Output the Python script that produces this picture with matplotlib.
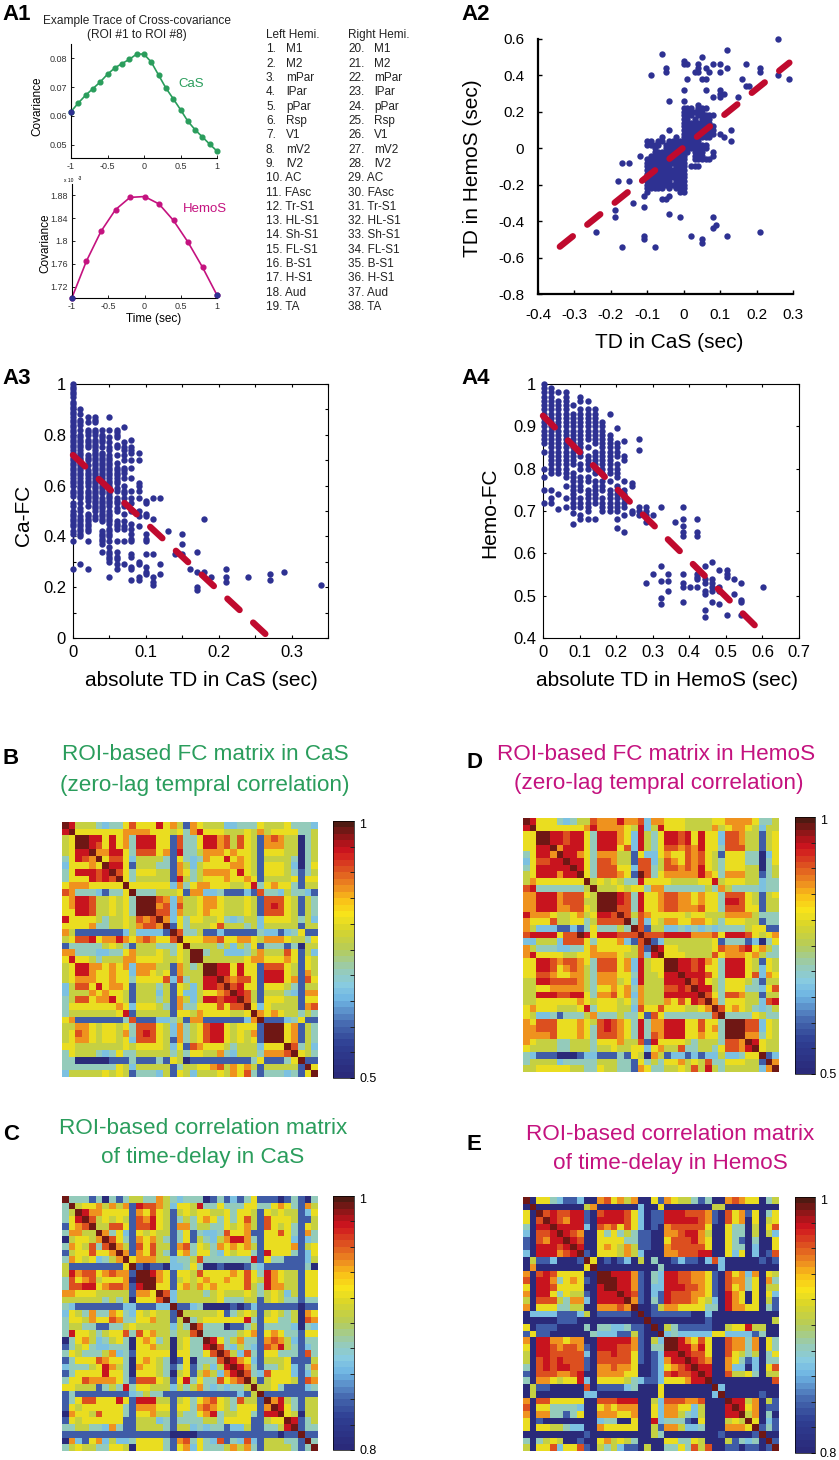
import numpy as np
import matplotlib
matplotlib.use("Agg")
import matplotlib.pyplot as plt
from matplotlib.colors import LinearSegmentedColormap

plt.rcParams['font.family'] = ['Liberation Sans', 'DejaVu Sans']
W, H = 839, 1460
BLUE = '#2e3192'
RED = '#c00a2e'
GREEN = '#2a9d5c'
MAGENTA = '#c4127f'
DOT = 21

# A1 traces
cas_t = [-1, -.9, -.8, -.7, -.6, -.5, -.4, -.3, -.2, -.1, 0, .1, .2, .3, .4, .5, .6, .7, .8, .9, 1]
cas_cov = [.0615, .0645, .0672, .0695, .0718, .0745, .0767, .0782, .0797, .0815, .0815,
           .0787, .0742, .0697, .0660, .0622, .0582, .0552, .0527, .0502, .0478]
hemo_t = [-1, -.8, -.6, -.4, -.2, 0, .2, .4, .6, .8, 1]
hemo_cov = [1.7008, 1.765, 1.817, 1.855, 1.8765, 1.878, 1.865, 1.836, 1.798, 1.754, 1.705]

roi_names = ['M1', 'M2', 'mPar', 'lPar', 'pPar', 'Rsp', 'V1', 'mV2', 'lV2', 'AC', 'FAsc', 'Tr-S1',
             'HL-S1', 'Sh-S1', 'FL-S1', 'B-S1', 'H-S1', 'Aud', 'TA']

# A2 outliers
a2_x = [-.09, -.05, -.05, -.04, -.04, 0, 0, .01, .01, 0, 0, .03, .04, .04, .04, .05, .06, .06, .07, .06, .08, .08,
        .10, .10, .10, .10, .11, .12, .15, .16, .17, .17, .18, .21, .21, .10, .05, .12, -.06, .11, .10, .13, .13,
        .26, .26, .29,
        -.12, -.17, -.15, -.18, -.15, -.14, -.19, -.19, -.24, -.11, -.11, -.11, -.11, -.08, -.17, -.04, -.01,
        .02, .05, .05, .08, .09, .08, .12, .21, -.06, -.05, -.04, -.10, -.10]
a2_y = [.40, .44, .42, .26, .10, .48, .46, .46, .38, .32, .26, .42, .46, .44, .42, .38, .38, .44, .42, .32, .46, .28,
        .46, .42, .32, .28, .30, .44, .28, .38, .46, .34, .34, .44, .42, .30, .50, .54, .52, .06, .08, .10, .04,
        .60, .40, .38,
        -.04, -.08, -.08, -.18, -.18, -.30, -.34, -.38, -.46, -.32, -.26, -.48, -.50, -.54, -.54, -.36, -.38,
        -.48, -.50, -.52, -.38, -.42, -.44, -.48, -.46, -.28, -.28, -.26, -.22, -.24]
# A2 dense core, columns of y (hundredths) at x (hundredths)
a2_core_x = [-10, -9, -8, -7, -6, -5, -4, -3, -2, -1, 0, 1, 2, 3, 4, 5, 6, 7, 8]
a2_core_y = [
    [-20, -18, -14, -12, -10, -8, -6, 2, 4],
    [-22, -20, -18, -16, -14, -12, -10, -8, -6, -4, 2, 4],
    [-22, -20, -18, -16, -14, -12, -10, -8, -6, -4, -2, 0, 2],
    [-22, -20, -18, -16, -14, -12, -10, -8, -6, -4, -2, 2, 4],
    [-22, -20, -18, -16, -14, -12, -10, -8, -6, -4, -2, 4, 6],
    [-20, -18, -16, -14, -12, -10, -8, -6, -4, -2, 0, 2],
    [-22, -20, -18, -16, -14, -12, -10, -8, -6, -4, -2, 0, 2, 4],
    [-20, -16, -14, -12, -8, -6, -4, -2, 0, 2, 4],
    [-22, -20, -18, -16, -14, -12, -10, -8, -6, -4, -2, 0, 2, 4, 6],
    [-24, -22, -20, -18, -16, -14, -12, -10, -8, -6, -4, -2, 0, 2, 4],
    [-24, -22, -20, -18, -16, -14, -12, -10, -8, -6, -4, -2, 0, 2, 4, 6, 8, 10, 12, 14, 16, 18, 20, 22],
    [-2, 0, 2, 4, 6, 8, 10, 12, 14, 16, 18, 20, 22],
    [-10, 0, 2, 4, 6, 8, 10, 12, 14, 18, 20, 22],
    [-10, -6, -4, -2, 0, 2, 4, 6, 8, 10, 12, 14, 16, 20],
    [-10, -6, -4, -2, 0, 2, 4, 6, 8, 10, 12, 14, 18, 20, 22, 24],
    [-6, -4, -2, 0, 2, 6, 8, 10, 12, 14, 16, 18, 20, 22],
    [-6, 0, 2, 6, 8, 10, 12, 14, 16, 18, 22],
    [-6, 6, 8, 10, 12, 14, 16, 18],
    [-4, -2, 8, 10, 12, 18],
]
a2_line_x = [-.34, .29]
a2_line_y = [-.54, .47]

# A3 columns
a3_x = [0, .01, .02, .03, .04, .05, .06, .07, .08, .09, .10, .11, .12, .13, .14, .15, .16, .17, .18, .19, .21, .24, .27, .29, .34]
a3_y = [
    [27, 38, 41, 42, 44, 45, 46, 47, 48, 49, 50, 52, 53, 56, 57, 58, 60, 61, 62, 63, 64, 65, 66, 67, 68, 69, 70, 71, 72,
     73, 74, 75, 76, 77, 78, 79, 80, 81, 82, 83, 84, 85, 86, 87, 88, 89, 90, 91, 92, 93, 95, 96, 97, 98, 99, 100],
    [29, 40, 41, 42, 43, 44, 45, 46, 47, 48, 50, 51, 53, 55, 56, 57, 58, 59, 60, 61, 62, 63, 64, 65, 66, 67, 68, 69, 70,
     71, 72, 73, 74, 75, 76, 77, 78, 79, 80, 82, 84, 85, 86, 88, 90],
    [27, 38, 42, 43, 44, 45, 46, 47, 48, 49, 52, 54, 55, 56, 57, 58, 60, 61, 62, 63, 64, 65, 66, 68, 70, 71, 72, 75, 76,
     77, 78, 80, 81, 82, 85, 87],
    [47, 48, 50, 51, 52, 53, 54, 55, 56, 57, 58, 59, 60, 61, 62, 63, 64, 65, 66, 67, 68, 69, 70, 71, 72, 73, 74, 75, 76,
     77, 78, 80, 81, 82, 85, 86, 87],
    [34, 37, 38, 39, 40, 41, 42, 46, 47, 48, 49, 50, 51, 52, 53, 54, 55, 57, 58, 59, 60, 61, 62, 63, 64, 65, 66, 67, 68,
     69, 70, 71, 72, 73, 75, 77, 78, 79, 80, 82],
    [24, 30, 31, 32, 33, 34, 36, 38, 40, 41, 42, 43, 45, 46, 47, 48, 49, 50, 52, 53, 54, 55, 56, 57, 58, 59, 60, 61, 62,
     63, 64, 65, 66, 67, 68, 69, 70, 71, 72, 74, 75, 77, 79, 82, 87],
    [27, 29, 31, 32, 34, 38, 43, 44, 45, 46, 50, 51, 53, 54, 55, 58, 59, 61, 62, 63, 64, 65, 66, 67, 69, 72, 75, 76, 79,
     80, 81, 82],
    [29, 38, 43, 44, 46, 49, 52, 53, 55, 57, 58, 60, 63, 65, 66, 67, 70, 72, 74, 75, 77, 83],
    [23, 27, 28, 32, 33, 38, 39, 41, 43, 45, 50, 53, 55, 58, 63, 67, 70, 73, 74, 75, 78],
    [23, 24, 29, 30, 44, 48, 50, 55, 58, 60, 61, 70, 73],
    [25, 26, 28, 33, 38, 39, 41, 48, 49, 53, 54],
    [21, 22, 24, 33, 47, 55],
    [25, 29, 55],
    [42],
    [33],
    [33, 37, 41],
    [27],
    [19, 20, 26, 34],
    [26, 47],
    [24],
    [22, 24, 27],
    [24],
    [23, 25],
    [26],
    [21],
]
a3_line_x = [0, .27]
a3_line_y = [.72, 0]

# A4 columns
a4_x = [0, .02, .04, .06, .08, .10, .12, .14, .16, .18, .20, .22, .24, .26, .28, .30, .32, .34, .36, .38, .40,
        .42, .44, .46, .48, .50, .52, .54, .60]
a4_y = [
    [72, 75, 78, 80, 84, 86, 87, 88, 89, 90, 91, 92, 93, 94, 95, 96, 97, 98, 99, 100],
    [72, 73, 75, 79, 80, 81, 82, 83, 84, 85, 86, 87, 88, 89, 90, 91, 92, 93, 94, 95, 96, 97, 98, 99],
    [70.5, 74, 79, 80, 81, 82, 83, 84, 85, 86, 87, 88, 89, 90, 91, 92, 93, 94, 95, 96, 98],
    [71, 73, 76, 78, 79, 80, 81, 82, 83, 84, 85, 86, 87, 88, 89, 90, 91, 92, 93, 94, 95, 96, 97, 98],
    [67, 69.5, 71, 72, 73, 74, 75, 76, 77, 78, 79, 81, 82, 83, 84, 85, 86, 87, 88, 89, 90, 91, 92, 93, 95],
    [68, 69, 71, 72, 73, 75, 76, 77, 78, 80, 81, 83, 84, 85, 86, 87, 88, 89, 90, 91, 92, 93, 94, 96, 97],
    [68, 70, 71, 72, 73, 74, 75, 77, 78, 80, 81, 82, 83, 85, 87, 88, 89, 90, 91, 92, 93, 94, 96],
    [68, 72, 73, 74, 75, 76, 77, 79, 80, 81, 82, 83, 84, 86, 87, 88, 89, 90, 91, 92, 93, 94],
    [70, 71, 72, 73, 75, 76, 77, 79, 80, 81, 82, 83, 84, 85, 86, 87, 88, 89, 90, 91],
    [70, 71, 72, 73, 74, 75, 77, 79, 80, 81, 82, 83, 84, 85, 86, 87, 88, 93],
    [66, 68, 70, 71, 72, 73, 74, 75, 76, 78, 79, 80, 81, 83, 84, 85, 86, 89.5],
    [65, 69, 71, 72, 73, 74, 75, 77, 82, 83, 86.5],
    [69.5, 70, 76, 76.5],
    [69, 70, 71, 84.5, 87],
    [53, 67.5, 69, 70, 71],
    [55, 69],
    [48, 49.5, 53.5, 57, 71],
    [51, 53.5, 55],
    [67.5],
    [48.5, 52, 53, 55, 64, 65, 66.5, 68, 71],
    [52],
    [52, 54, 54.5, 55, 64, 65, 68],
    [45, 46.5, 50.5, 51, 53, 54, 57],
    [48.5, 51, 52, 53, 54, 58],
    [48, 51, 52, 56],
    [45.5, 54.5, 55, 56],
    [50.5, 54],
    [45.5, 48.5, 49, 53],
    [52],
]
a4_line_x = [0, .585]
a4_line_y = [.925, .425]

# matrices: upper triangle rows from the diagonal, colour level 0-9
level_frac = [.02, .18, .33, .42, .53, .62, .74, .82, .88, .97]

fc_cas = """9 8 4 4 4 3 2 3 3 5 7 5 5 5 8 5 6 4 1 6 5 4 4 4 2 2 3 3 3 5 4 4 4 5 3 3 3 2
9 5 5 5 5 5 5 5 6 6 6 6 5 5 5 4 5 3 6 8 5 5 5 4 4 4 5 4 6 4 5 5 5 5 3 3 4
9 9 8 8 5 8 5 6 3 8 8 8 5 5 1 7 3 3 5 8 8 6 7 4 7 5 4 1 6 7 6 4 4 0 3 4
9 8 7 5 8 5 6 3 8 8 8 5 5 1 7 3 3 5 8 8 6 7 4 7 5 4 1 6 6 6 4 4 0 3 4
9 6 6 8 8 5 3 7 7 7 5 6 1 8 3 3 4 6 6 6 5 6 5 5 4 1 5 5 5 4 4 0 3 4
9 5 7 7 5 2 4 4 4 4 3 1 5 3 2 3 6 5 5 8 5 6 5 4 1 4 4 4 4 3 0 3 4
9 8 8 5 1 4 4 4 3 3 1 6 4 2 4 5 5 5 5 6 6 5 4 1 5 5 5 4 2 0 3 5
9 7 5 3 5 5 5 4 4 1 6 5 3 4 6 6 6 6 5 8 5 4 1 5 5 5 4 3 1 3 4
9 5 3 4 4 4 4 4 1 8 4 3 4 5 5 5 6 5 5 6 5 1 4 4 4 4 5 1 5 5
9 5 5 5 5 5 5 2 6 3 5 6 6 5 5 5 4 4 5 8 3 5 6 5 5 3 1 4 4
9 3 3 3 4 4 4 5 1 6 6 2 2 3 1 1 1 2 1 7 3 3 2 4 3 3 2 1
9 9 9 7 6 2 6 4 4 5 6 6 5 4 4 4 5 4 1 7 7 7 5 4 1 4 3
9 9 6 7 2 7 4 4 5 6 6 5 4 4 4 5 4 1 7 8 7 5 4 1 4 3
9 7 7 2 6 4 4 5 6 5 5 4 4 4 5 4 1 7 7 7 5 4 1 4 3
9 6 2 5 3 5 5 4 4 5 3 2 3 4 4 2 5 5 5 5 4 3 4 2
9 1 5 3 4 4 4 5 7 4 4 4 3 4 2 4 4 4 4 4 1 4 4
9 7 3 3 4 1 1 2 1 1 1 1 1 3 2 2 1 2 3 5 1 1
9 5 5 5 6 6 7 5 5 6 6 5 4 6 6 6 5 4 4 3 5
9 4 4 4 4 3 4 2 4 3 5 1 3 3 3 1 3 0 4 4
9 9 3 4 4 2 2 2 3 4 6 4 4 4 7 5 1 4 2
9 4 4 4 4 4 4 5 6 6 5 5 5 6 5 1 5 4
9 9 8 8 5 8 5 5 1 7 7 7 5 4 1 5 4
9 8 8 5 8 5 5 1 8 8 8 5 4 1 6 4
9 7 6 7 7 5 1 8 8 8 5 6 1 7 5
9 7 8 5 5 1 5 5 5 4 3 1 4 4
9 8 7 4 1 4 4 4 3 2 1 6 6
9 7 4 1 5 5 5 4 4 1 5 5
9 5 2 5 4 4 4 4 1 6 7
9 6 5 6 5 4 4 3 4 3
9 1 1 1 2 3 5 1 1
9 9 9 5 6 1 4 3
9 9 5 6 1 4 3
9 5 6 1 4 3
9 7 3 4 2
9 5 4 3
9 1 1
9 5
9"""

fc_hemo = """9 8 5 5 5 3 2 3 4 4 7 6 6 6 8 6 6 7 2 6 6 5 5 5 4 4 4 4 5 5 6 6 6 6 5 3 3 4
9 5 5 5 5 5 5 5 6 8 6 6 6 6 5 4 8 2 4 8 5 5 5 4 4 4 4 6 4 5 6 6 5 4 2 4 4
9 9 8 8 7 8 8 5 3 8 8 8 6 5 2 8 4 3 5 8 8 7 8 5 8 5 5 2 7 7 6 4 4 1 4 5
9 8 8 7 8 8 5 3 8 8 8 6 5 2 8 4 3 5 8 8 7 8 5 8 5 5 2 7 7 6 4 4 1 4 5
9 6 8 8 8 5 3 8 8 8 5 7 2 8 4 3 5 7 7 6 7 6 8 5 5 3 7 7 7 4 4 1 4 5
9 8 8 6 5 3 6 6 6 4 4 1 5 2 2 5 6 5 5 7 6 7 5 4 1 5 5 5 3 3 0 2 5
9 8 8 5 3 7 7 6 4 4 1 7 7 2 4 7 6 5 7 6 7 5 4 3 5 5 5 3 3 0 3 5
9 8 5 3 7 7 7 5 5 2 7 7 3 4 7 7 6 7 6 8 5 4 3 5 5 5 4 4 0 3 4
9 5 3 7 7 7 6 5 1 9 7 3 5 6 6 6 6 6 8 6 5 3 6 6 6 4 4 1 3 4
9 4 5 4 5 4 3 3 8 5 5 5 5 4 4 4 4 5 5 8 4 5 5 5 4 4 2 3 3
9 4 4 4 5 4 5 5 3 6 6 3 3 3 3 3 3 4 3 6 4 3 3 3 3 2 3 3
9 9 9 8 7 3 8 5 5 6 7 7 6 6 5 6 5 5 3 7 7 7 5 4 1 4 5
9 9 8 7 3 8 5 5 6 7 7 6 6 5 6 5 5 3 8 8 7 5 4 1 4 4
9 7 7 3 8 5 5 6 7 7 6 6 6 7 5 5 3 7 7 7 5 5 1 4 4
9 7 4 7 6 5 5 5 5 5 4 5 5 4 4 4 6 6 6 6 4 3 3 3
9 3 7 2 5 4 6 6 5 5 6 6 5 4 3 5 5 5 4 4 1 3 3
9 7 1 4 4 2 2 3 2 3 2 3 2 3 3 3 3 4 5 5 1 1
9 7 7 7 8 8 8 8 6 6 6 7 5 8 8 8 7 5 4 5 6
9 1 2 4 4 4 4 4 4 4 5 1 3 3 3 1 2 0 3 5
9 8 5 5 4 4 4 4 4 5 7 6 6 7 8 5 6 4 3
9 5 5 5 4 4 4 4 7 5 6 6 6 5 6 4 3 3
9 9 8 8 7 8 6 5 3 8 8 8 5 4 1 5 4
9 8 8 7 8 5 5 3 8 8 8 5 4 2 5 4
9 8 8 8 7 5 3 8 8 8 5 7 2 6 5
9 7 8 5 4 3 5 5 5 4 3 1 4 4
9 8 8 4 3 5 5 5 3 3 2 5 7
9 7 5 3 7 7 6 4 4 1 4 4
9 6 3 5 5 5 4 4 2 7 8
9 7 5 6 5 4 3 2 3 4
9 3 3 3 3 5 4 3 3
9 9 9 7 7 2 5 4
9 9 7 7 2 5 4
9 6 6 3 5 4
9 8 5 4 4
9 5 4 4
9 1 2
9 6
9"""

td_cas = """9 3 3 3 1 3 0 3 1 3 4 4 3 3 6 4 3 2 3 3 3 0 1 3 1 2 1 3 5 1 1 1 0 1 3 1 0 3
9 4 5 5 6 4 6 4 6 1 8 7 7 6 4 2 5 5 4 8 3 3 5 3 3 3 5 5 3 3 5 6 5 3 1 6 4
9 8 6 6 5 5 5 5 1 6 5 7 5 4 1 4 5 4 5 5 4 4 5 3 5 5 4 1 5 4 5 4 4 1 2 5
9 7 4 5 4 5 4 1 7 6 8 5 4 1 3 4 3 5 6 5 3 5 3 5 7 4 1 7 5 5 5 4 1 1 4
9 4 4 7 7 5 1 7 7 8 5 4 1 6 6 3 4 4 3 3 5 4 5 6 4 1 7 5 4 5 3 1 5 4
9 6 3 5 2 1 5 4 5 4 4 1 3 5 1 3 2 2 3 7 5 5 6 1 1 5 5 7 5 3 1 6 3
9 7 5 3 1 6 5 6 4 3 1 3 5 1 4 3 2 4 6 8 8 6 3 1 5 5 5 5 2 1 2 3
9 6 4 1 7 5 7 4 4 1 6 7 3 5 4 3 6 5 6 5 6 4 1 5 5 5 5 6 1 4 5
9 6 1 6 5 7 4 3 1 5 6 3 5 5 3 2 5 4 5 5 3 1 8 5 5 5 3 1 2 5
9 5 6 6 6 4 4 2 3 3 4 7 3 3 3 3 3 3 3 8 1 5 3 3 1 1 1 2 4
9 1 0 1 1 0 2 2 3 5 3 0 0 1 0 0 0 1 3 2 1 1 1 1 1 1 3 0
9 9 8 6 5 1 5 5 4 7 5 5 5 5 6 5 7 5 3 8 6 5 4 4 1 5 5
9 9 6 5 1 4 5 4 5 6 5 5 6 5 5 7 5 4 8 6 5 4 4 1 5 5
9 5 5 1 5 6 4 6 5 6 5 5 5 5 7 4 3 8 6 6 4 4 1 5 5
9 7 2 4 4 4 4 3 4 5 4 4 4 5 4 3 4 5 4 2 4 1 5 5
9 2 4 4 4 4 4 4 5 3 3 3 4 4 1 4 5 4 3 3 1 3 3
9 1 1 2 3 0 0 0 0 1 0 1 2 1 1 1 1 1 1 0 1 1
9 4 4 4 4 4 5 1 3 4 5 4 1 4 5 4 3 4 0 6 5
9 3 4 5 5 5 5 5 5 8 3 1 5 5 3 3 4 0 7 6
9 7 3 3 3 0 1 1 3 4 1 3 3 3 3 2 0 3 2
9 3 3 3 3 3 4 5 6 1 5 6 5 3 3 1 5 5
9 8 5 3 4 6 3 3 1 6 7 6 4 2 1 3 3
9 7 3 2 4 3 2 1 7 6 8 4 3 1 2 3
9 7 4 2 7 3 1 5 5 3 3 3 1 7 3
9 8 6 5 2 1 4 4 4 5 1 1 1 4
9 8 6 3 1 3 3 4 5 2 1 3 6
9 7 3 2 7 5 5 5 2 1 2 4
9 4 1 4 5 5 5 4 1 7 6
9 4 4 5 3 1 1 1 2 3
9 1 1 1 1 1 1 1 1
9 6 8 4 3 1 4 4
9 8 5 3 1 4 4
9 5 4 0 4 4
9 8 1 3 4
9 1 3 3
9 1 1
9 3
9"""

td_hemo = """9 0 5 5 3 2 1 1 2 0 0 6 7 5 6 4 6 0 0 5 1 6 5 4 4 3 1 3 0 0 6 7 6 5 5 0 3 4
9 0 0 0 0 0 0 0 4 6 0 0 0 0 0 0 2 0 0 5 0 0 0 0 0 0 0 4 4 0 0 0 0 0 0 0 0
9 7 8 7 7 8 8 1 0 7 8 8 8 7 5 2 0 1 1 8 8 8 7 7 7 6 1 0 7 5 6 1 5 0 3 5
9 8 7 6 8 8 1 0 8 8 8 8 7 5 2 0 1 1 8 8 8 8 8 7 6 1 0 7 5 6 0 5 0 4 5
9 8 8 8 8 2 0 7 6 7 5 7 5 2 0 1 0 6 7 7 7 7 7 5 0 0 5 3 3 0 4 0 5 7
9 8 7 6 0 0 5 3 5 3 4 3 1 1 0 0 6 6 7 8 8 6 4 0 0 5 3 3 0 4 0 4 2
9 8 7 0 0 5 5 5 5 3 3 1 1 0 0 5 7 7 7 8 6 5 0 0 5 3 1 0 3 0 0 5
9 8 0 0 5 6 5 4 6 4 1 1 0 0 6 7 7 7 7 7 5 0 0 5 3 3 0 2 0 0 5
9 1 0 5 5 5 4 6 4 2 0 0 0 6 6 7 7 7 8 8 0 0 5 2 5 0 2 0 1 7
9 5 0 1 0 1 2 0 4 0 3 0 0 1 2 1 1 0 2 7 2 0 0 0 0 0 1 0 1
9 0 0 0 0 0 0 0 0 0 3 0 0 0 0 0 0 0 0 2 0 0 0 0 0 0 0 0
9 9 8 8 8 6 1 0 3 2 8 8 7 7 6 6 5 1 0 7 5 6 2 6 0 5 4
9 9 8 8 6 1 0 3 2 8 8 7 7 6 6 5 1 0 7 6 6 3 5 0 6 3
9 8 8 6 1 0 2 2 8 8 8 7 7 6 5 1 0 7 5 6 3 5 0 4 4
9 8 7 1 0 2 1 8 7 7 7 6 6 5 1 0 8 6 5 0 5 0 5 2
9 6 1 0 3 1 8 7 7 7 6 5 4 2 0 8 6 5 0 5 0 4 1
9 0 0 1 4 6 6 5 5 5 5 3 3 0 8 6 6 5 5 0 3 1
9 0 1 1 1 1 1 1 0 0 2 0 0 0 0 0 0 0 0 0 0
9 0 0 0 0 0 0 0 0 1 0 0 0 0 0 0 0 0 0 4
9 0 4 3 1 1 1 1 1 0 0 4 5 5 8 4 4 0 0
9 2 3 2 2 2 2 2 5 5 2 2 2 2 1 3 0 0
9 9 8 6 5 7 5 0 0 7 6 6 3 6 0 5 3
9 8 8 6 8 5 0 0 7 6 6 3 6 0 5 3
9 8 7 7 5 0 0 7 5 4 3 4 0 3 5
9 8 7 6 0 0 6 5 3 1 2 0 3 3
9 8 8 0 0 6 2 2 0 2 0 5 7
9 8 0 0 7 4 4 5 3 0 4 4
9 0 0 0 0 0 0 0 0 0 7
9 2 0 0 0 0 0 0 0 0
9 0 0 0 0 0 1 0 0
9 8 8 4 6 0 4 1
9 8 5 6 0 1 1
9 4 6 0 3 0
9 5 0 2 1
9 1 3 1
9 0 0
9 1
9"""

jet_like = LinearSegmentedColormap.from_list('fc', [
    (0, '#2a2a7a'), (.12, '#2f3f93'), (.2, '#4567ae'), (.3, '#6fb5e4'), (.36, '#88cbe0'),
    (.42, '#97cbb5'), (.5, '#b5cc5a'), (.58, '#d8d52a'), (.64, '#f8e41a'), (.70, '#f9bf18'),
    (.75, '#ee8c20'), (.82, '#dd5020'), (.89, '#d0141f'), (.93, '#a8141a'), (1, '#4f1a12')], N=40)


def ax_px(l, t, r, b):
    return fig.add_axes([l / W, 1 - b / H, (r - l) / W, (b - t) / H])


def txt(x, y, s, **kw):
    kw.setdefault('ha', 'left')
    kw.setdefault('va', 'center')
    fig.text(x / W, 1 - y / H, s, **kw)


def red_line(ax, x, y):
    ax.plot(x, y, color=RED, lw=4.6, linestyle=(0, (2.6, 2.9)), dash_capstyle='round', zorder=5, clip_on=False)


def tri_matrix(text, vmin, vmax):
    m = np.zeros((38, 38))
    for i, line in enumerate(text.split('\n')):
        vals = [vmin + level_frac[int(c)] * (vmax - vmin) for c in line.split()]
        vals = (vals + [vals[-1]] * 38)[:38 - i]
        m[i, i:] = vals
        m[i:, i] = vals
    return m


def matrix_panel(text, vmin, vmax, box, cbox, low):
    ax = ax_px(*box)
    im = ax.imshow(tri_matrix(text, vmin, vmax), cmap=jet_like, vmin=vmin, vmax=vmax,
                   interpolation='nearest', aspect='auto')
    ax.axis('off')
    cax = ax_px(*cbox)
    cb = fig.colorbar(im, cax=cax)
    cb.outline.set_linewidth(0.5)
    cb.set_ticks(np.linspace(vmin, vmax, 11))
    cb.set_ticklabels([])
    cax.tick_params(direction='in', length=3, width=0.7, color='#222222')
    txt(cbox[2] + 5, cbox[1] + 4, '1', fontsize=9)
    txt(cbox[2] + 5, cbox[3] + 1, low, fontsize=9)


fig = plt.figure(figsize=(W / 100, H / 100), dpi=100)

# A1
ax = ax_px(71, 44, 217, 158)
ax.plot(cas_t, cas_cov, '-o', color=GREEN, lw=1.2, ms=3.4, clip_on=False)
ax.plot(cas_t[0], cas_cov[0], 'o', color=BLUE, ms=3.4, clip_on=False, zorder=4)
ax.set_xlim(-1, 1)
ax.set_ylim(.0454, .085)
ax.set_xticks([-1, -.5, 0, .5, 1], ['-1', '-0.5', '0', '0.5', '1'])
ax.set_yticks([.05, .06, .07, .08], ['0.05', '0.06', '0.07', '0.08'])
ax.tick_params(labelsize=6.5, length=2, width=.6, direction='in', labelcolor='#333333', pad=3)
ax.spines[['top', 'right']].set_visible(False)

ax = ax_px(72, 184, 217, 298)
ax.plot(hemo_t, hemo_cov, '-o', color=MAGENTA, lw=1.2, ms=3.4, clip_on=False)
ax.plot([hemo_t[0], hemo_t[-1]], [hemo_cov[0], hemo_cov[-1]], 'o', color=BLUE, ms=3.4, clip_on=False, zorder=4)
ax.set_xlim(-1, 1)
ax.set_ylim(1.70, 1.90)
ax.set_xticks([-1, -.5, 0, .5, 1], ['-1', '-0.5', '0', '0.5', '1'])
ax.set_yticks([1.72, 1.76, 1.8, 1.84, 1.88], ['1.72', '1.76', '1.8', '1.84', '1.88'])
ax.tick_params(labelsize=6.5, length=2, width=.6, direction='in', labelcolor='#333333', pad=3)
ax.spines[['top', 'right']].set_visible(False)

txt(2, 14, 'A1', fontsize=16, fontweight='bold')
txt(137, 21, 'Example Trace of Cross-covariance', fontsize=8.6, ha='center', color='#222222')
txt(137, 35, '(ROI #1 to ROI #8)', fontsize=8.6, ha='center', color='#222222')
txt(178, 84, 'CaS', fontsize=9.5, color=GREEN)
txt(183, 209, 'HemoS', fontsize=9.5, color=MAGENTA)
txt(37, 106, 'Covariance', fontsize=8.5, rotation=90, ha='center')
txt(45, 243, 'Covariance', fontsize=8.5, rotation=90, ha='center')
txt(154, 319, 'Time (sec)', fontsize=8.5, ha='center')
txt(64, 180, 'x 10', fontsize=3.5)
txt(78, 178, '-3', fontsize=3.5)

txt(266, 35, 'Left Hemi.', fontsize=8.5, color='#222222')
txt(348, 35, 'Right Hemi.', fontsize=8.5, color='#222222')
for i, name in enumerate(roi_names):
    y = 49.5 + i * 14.3
    if i < 9:
        txt(266, y, f'{i + 1}.', fontsize=8.5, color='#222222')
        txt(286, y, name, fontsize=8.5, color='#222222')
        txt(348, y, f'{i + 20}.', fontsize=8.5, color='#222222')
        txt(374, y, name, fontsize=8.5, color='#222222')
    else:
        txt(266, y, f'{i + 1}. {name}', fontsize=8.5, color='#222222')
        txt(348, y, f'{i + 20}. {name}', fontsize=8.5, color='#222222')

# A2
ax = ax_px(538, 39, 793, 294)
ax.scatter(a2_x, a2_y, s=DOT, color=BLUE, linewidths=0, clip_on=False)
for cx, ys in zip(a2_core_x, a2_core_y):
    ax.scatter([cx / 100] * len(ys), [v / 100 for v in ys], s=DOT, color=BLUE, linewidths=0)
red_line(ax, a2_line_x, a2_line_y)
ax.set_xlim(-.4, .3)
ax.set_ylim(-.8, .6)
ax.set_xticks([-.4, -.3, -.2, -.1, 0, .1, .2, .3], ['-0.4', '-0.3', '-0.2', '-0.1', '0', '0.1', '0.2', '0.3'])
ax.set_yticks([-.8, -.6, -.4, -.2, 0, .2, .4, .6], ['-0.8', '-0.6', '-0.4', '-0.2', '0', '0.2', '0.4', '0.6'])
ax.tick_params(labelsize=11, length=3, width=1, direction='in', pad=10)
ax.spines[['top', 'right']].set_visible(False)
ax.spines[['left', 'bottom']].set_linewidth(1.6)
txt(461, 14, 'A2', fontsize=16, fontweight='bold')
txt(473, 168, 'TD in HemoS (sec)', fontsize=15, rotation=90, ha='center')
txt(669, 342, 'TD in CaS (sec)', fontsize=15, ha='center')

# A3
ax = ax_px(73, 384, 328, 638)
for cx, ys in zip(a3_x, a3_y):
    ax.scatter([cx] * len(ys), [v / 100 for v in ys], s=DOT, color=BLUE, linewidths=0, clip_on=False, zorder=3)
red_line(ax, a3_line_x, a3_line_y)
ax.set_xlim(0, .35)
ax.set_ylim(0, 1)
ax.set_xticks(np.arange(0, .36, .05), ['0', '', '0.1', '', '0.2', '', '0.3', ''])
ax.set_yticks(np.arange(0, 1.01, .1), ['0', '', '0.2', '', '0.4', '', '0.6', '', '0.8', '', '1'])
ax.tick_params(labelsize=12, length=2.5, width=.8, direction='in', top=True, right=True, pad=5)
txt(2, 378, 'A3', fontsize=16, fontweight='bold')
txt(24, 515, 'Ca-FC', fontsize=15, rotation=90, ha='center')
txt(201, 680, 'absolute TD in CaS (sec)', fontsize=15, ha='center')

# A4
ax = ax_px(543, 384, 799, 638)
for cx, ys in zip(a4_x, a4_y):
    ax.scatter([cx + .002] * len(ys), [v / 100 for v in ys], s=DOT, color=BLUE, linewidths=0, clip_on=False, zorder=3)
red_line(ax, a4_line_x, a4_line_y)
ax.set_xlim(0, .7)
ax.set_ylim(.4, 1)
ax.set_xticks(np.arange(0, .71, .1), ['0', '0.1', '0.2', '0.3', '0.4', '0.5', '0.6', '0.7'])
ax.set_yticks(np.arange(.4, 1.01, .1), ['0.4', '0.5', '0.6', '0.7', '0.8', '0.9', '1'])
ax.tick_params(labelsize=12, length=2.5, width=.8, direction='in', top=True, right=True, pad=5)
txt(461, 378, 'A4', fontsize=16, fontweight='bold')
txt(490, 513, 'Hemo-FC', fontsize=15, rotation=90, ha='center')
txt(667, 680, 'absolute TD in HemoS (sec)', fontsize=15, ha='center')

# matrices
matrix_panel(fc_cas, .5, 1, (62, 822, 318, 1077), (333, 821, 354, 1078), '0.5')
matrix_panel(fc_hemo, .5, 1, (523, 818, 779, 1072), (795, 817, 815, 1074), '0.5')
matrix_panel(td_cas, .8, 1, (62, 1196, 318, 1451), (333, 1196, 354, 1450), '0.8')
matrix_panel(td_hemo, .8, 1, (523, 1197, 779, 1451), (795, 1197, 815, 1453), '0.8')

txt(3, 758, 'B', fontsize=16, fontweight='bold')
txt(467, 762, 'D', fontsize=16, fontweight='bold')
txt(3, 1134, 'C', fontsize=16, fontweight='bold')
txt(467, 1144, 'E', fontsize=16, fontweight='bold')
txt(205, 755, 'ROI-based FC matrix in CaS', fontsize=16.2, ha='center', color=GREEN)
txt(205, 785, '(zero-lag tempral correlation)', fontsize=16.2, ha='center', color=GREEN)
txt(203, 1129, 'ROI-based correlation matrix', fontsize=16.2, ha='center', color=GREEN)
txt(203, 1158, 'of time-delay in CaS', fontsize=16.2, ha='center', color=GREEN)
txt(656, 755, 'ROI-based FC matrix in HemoS', fontsize=16.2, ha='center', color=MAGENTA)
txt(659, 784, '(zero-lag tempral correlation)', fontsize=16.2, ha='center', color=MAGENTA)
txt(670, 1134, 'ROI-based correlation matrix', fontsize=16.2, ha='center', color=MAGENTA)
txt(670, 1163, 'of time-delay in HemoS', fontsize=16.2, ha='center', color=MAGENTA)

fig.savefig('out.png', dpi=100)
